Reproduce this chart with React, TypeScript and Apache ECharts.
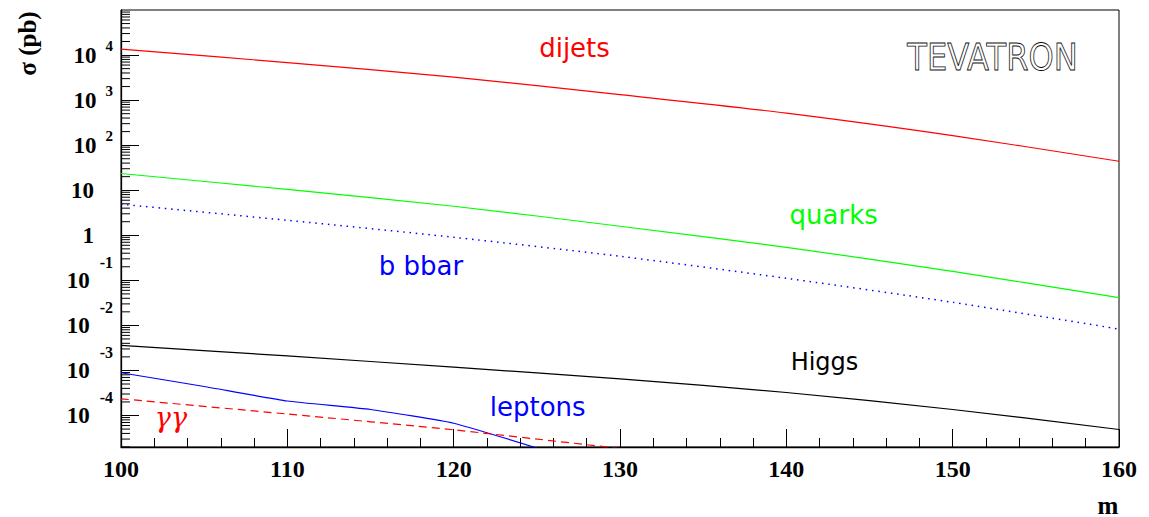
import React, { useEffect, useRef } from 'react';
import * as echarts from 'echarts';

// ---- data ----
const massGeV = [100, 110, 120, 130, 140, 150, 160];
const dijets = [13600, 6810, 3245, 1325, 514, 163, 44];
const quarks = [23.5, 10.4, 4.41, 1.585, 0.541, 0.158, 0.0413];
const bbbar = [4.89, 2.15, 0.903, 0.341, 0.111, 0.0325, 0.00828];
const higgs = [0.00359, 0.0021, 0.00118, 0.000647, 0.000324, 0.000136, 0.0000489];
const leptonMass = [100, 105, 110, 115, 120, 125];
const leptons = [8.89e-4, 4.41e-4, 2.1e-4, 1.36e-4, 6.74e-5, 1.9e-5];
const gammaMass = [100, 110, 120, 130];
const gammagamma = [2.35e-4, 1.08e-4, 4.81e-5, 1.85e-5];

const xMin = 100;
const xMax = 160;
const yMin = 2e-5;
const yMax = 1e5;
const decadeStarts = [1e-5, 1e-4, 1e-3, 1e-2, 1e-1, 1, 10, 100, 1000, 10000];
const minorMultipliers = [2, 3, 4, 5, 6, 7, 8, 9];

const minorTickValues: number[] = [];
decadeStarts.forEach((d) =>
  minorMultipliers.forEach((m) => {
    const v = d * m;
    if (v >= yMin * 0.999 && v <= yMax) minorTickValues.push(v);
  })
);

const pairs = (xs: number[], ys: number[]) => xs.map((x, i) => [x, ys[i]]);

const serif = '"Liberation Serif", "Times New Roman", serif';
const sans = '"DejaVu Sans", sans-serif';

function label(text: string, x: number, y: number, size: number, color: string, extra: any = {}) {
  const { fontStyle, fontWeight, family, outline, ...rest } = extra;
  return {
    type: 'text',
    x,
    y,
    silent: true,
    ...rest,
    style: {
      text,
      font: `${fontStyle || ''} ${fontWeight || ''} ${size}px ${family || sans}`,
      fill: outline ? 'none' : color,
      stroke: outline ? color : undefined,
      lineWidth: outline ? 0.9 : 0,
      textAlign: 'center',
      textVerticalAlign: 'middle',
      align: 'center',
      verticalAlign: 'middle',
    },
  };
}

const labelFont = {
  fontFamily: serif,
  fontWeight: 'bold',
  color: '#000',
  verticalAlign: 'middle',
};

export default function App() {
  const ref = useRef<HTMLDivElement>(null);

  useEffect(() => {
    if (!ref.current) return;
    const chart = echarts.init(ref.current, undefined, { renderer: 'svg' });

    const option: any = {
      animation: false,
      backgroundColor: '#fff',
      grid: {
        left: 121,
        top: 10,
        right: 30,
        bottom: 70,
        show: true,
        borderColor: '#000',
        borderWidth: 1,
        backgroundColor: 'transparent',
      },
      xAxis: {
        type: 'value',
        min: xMin,
        max: xMax,
        interval: 10,
        axisLine: { show: true, lineStyle: { color: '#000', width: 1.3 } },
        axisTick: { show: true, inside: true, length: 18, lineStyle: { color: '#000', width: 1 } },
        minorTick: { show: true, splitNumber: 5, length: 9, lineStyle: { color: '#000', width: 1 } },
        splitLine: { show: false },
        minorSplitLine: { show: false },
        axisLabel: {
          margin: 10,
          color: '#000',
          fontFamily: serif,
          fontWeight: 'bold',
          fontSize: 24,
        },
      },
      yAxis: {
        type: 'log',
        logBase: 10,
        min: yMin,
        max: yMax,
        splitNumber: 10,
        axisLine: { show: true, lineStyle: { color: '#000', width: 1.3 } },
        axisTick: { show: true, inside: true, length: 18, lineStyle: { color: '#000', width: 1 } },
        splitLine: { show: false },
        axisLabel: {
          margin: 8,
          color: '#000',
          showMaxLabel: false,
          formatter: (v: number) => {
            const l = Math.log10(v);
            const e = Math.round(l);
            if (Math.abs(l - e) > 1e-6 || e > 4 || e < -4) return '';
            if (e === 0) return '{p|1}';
            if (e === 1) return '{p|10}';
            if (e < 0) return `{b|10}{n|${e}}`;
            return `{b|10}{s|${e}}`;
          },
          rich: {
            b: { ...labelFont, fontSize: 23, lineHeight: 24 },
            s: { ...labelFont, fontSize: 15, lineHeight: 15, padding: [0, 0, 19, 9] },
            n: { ...labelFont, fontSize: 16, lineHeight: 15, padding: [0, 0, 36, 10] },
            p: { ...labelFont, fontSize: 23, lineHeight: 24, padding: [0, 19, 0, 0] },
          },
        },
      },
      series: [
        {
          name: 'dijets',
          type: 'line',
          data: pairs(massGeV, dijets),
          smooth: 0.3,
          symbol: 'none',
          lineStyle: { color: '#ff0000', width: 1.2 },
          clip: true,
        },
        {
          name: 'quarks',
          type: 'line',
          data: pairs(massGeV, quarks),
          smooth: 0.3,
          symbol: 'none',
          lineStyle: { color: '#00ff00', width: 1.2 },
          clip: true,
        },
        {
          name: 'b bbar',
          type: 'line',
          data: pairs(massGeV, bbbar),
          smooth: 0.3,
          symbol: 'none',
          lineStyle: { color: '#0000ff', width: 1.5, type: [1.5, 4.8] },
          clip: true,
        },
        {
          name: 'Higgs',
          type: 'line',
          data: pairs(massGeV, higgs),
          smooth: 0.3,
          symbol: 'none',
          lineStyle: { color: '#000', width: 1.2 },
          clip: true,
        },
        {
          name: 'leptons',
          type: 'line',
          data: pairs(leptonMass, leptons),
          smooth: 0.15,
          symbol: 'none',
          lineStyle: { color: '#0000ff', width: 1.2 },
          clip: true,
        },
        {
          name: 'γγ',
          type: 'line',
          data: pairs(gammaMass, gammagamma),
          smooth: 0.2,
          symbol: 'none',
          lineStyle: { color: '#ff0000', width: 1.2, type: [8, 5] },
          clip: true,
        },
        {
          name: 'minor ticks',
          type: 'custom',
          silent: true,
          clip: false,
          data: minorTickValues.map((v) => [xMin, v]),
          encode: { x: 0, y: 1 },
          renderItem: (params: any, api: any) => {
            const p = api.coord([api.value(0), api.value(1)]);
            return {
              type: 'line',
              shape: { x1: p[0], y1: p[1], x2: p[0] + 9, y2: p[1] },
              style: { stroke: '#000', lineWidth: 1 },
            };
          },
        },
      ],
      graphic: [
        label('dijets', 574.5, 48, 26, '#ff0000'),
        label('TEVATRON', 992.5, 56, 38, '#111', { scaleX: 0.845, outline: true }),
        label('quarks', 833.7, 215, 26, '#00ff00'),
        label('b bbar', 421, 266, 26, '#0000ff'),
        label('Higgs', 824.5, 362, 24, '#000'),
        label('leptons', 537.7, 407, 26, '#0000ff'),
        label('γγ', 171, 417, 27, '#ff0000', { fontStyle: 'italic', family: '"DejaVu Serif", serif' }),
        label('σ (pb)', 27.5, 43.5, 25, '#000', { rotation: Math.PI / 2, fontWeight: 'bold', family: serif }),
        label('m', 1108, 505, 25, '#000', { fontWeight: 'bold', family: serif }),
      ],
    };

    chart.setOption(option);
    return () => chart.dispose();
  }, []);

  return (
    <div
      ref={ref}
      style={{ position: 'fixed', left: 0, top: 0, width: 1149, height: 517, background: '#fff' }}
    />
  );
}
